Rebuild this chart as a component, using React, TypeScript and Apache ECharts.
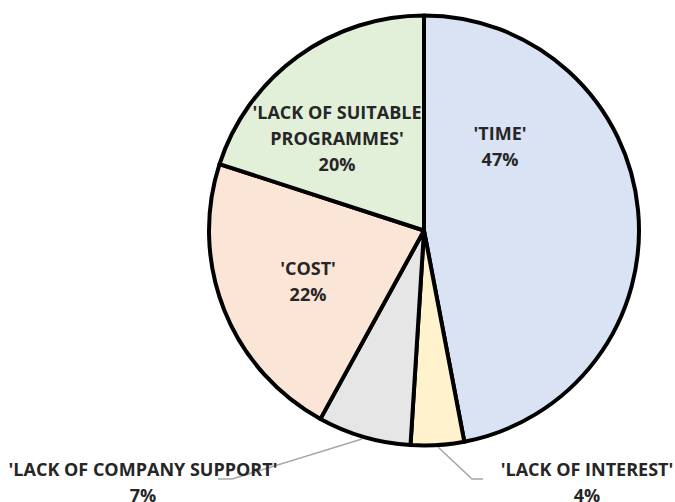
import React, { useEffect, useRef } from "react";
import * as echarts from "echarts";

const categories = [
  "'TIME'",
  "'LACK OF INTEREST'",
  "'LACK OF COMPANY SUPPORT'",
  "'COST'",
  "'LACK OF SUITABLE PROGRAMMES'",
];
const values = [47, 4, 7, 22, 20];
const colors = ["#dae3f3", "#fff2cc", "#e7e6e6", "#fbe5d6", "#e2f0d9"];
const labelTexts = [
  "'TIME'",
  "'LACK OF INTEREST'",
  "'LACK OF COMPANY SUPPORT'",
  "'COST'",
  "'LACK OF SUITABLE\nPROGRAMMES'",
];

const FONT = "'Open Sans', sans-serif";

export default function App() {
  const ref = useRef<HTMLDivElement>(null);
  useEffect(() => {
    if (!ref.current) return;
    const chart = echarts.init(ref.current, undefined, { renderer: "svg" });
    const labelPos: Record<number, { x: number; y: number; line?: number[][] }> = {
      0: { x: 500, y: 146 },
      1: { x: 587, y: 482, line: [[438, 447], [472, 479], [483, 479]] },
      2: { x: 143, y: 482, line: [[362, 439], [232, 479], [218, 479]] },
      3: { x: 308, y: 281 },
      4: { x: 337, y: 138 },
    };
    const total = values.reduce((a, b) => a + b, 0);
    chart.setOption({
      animation: false,
      backgroundColor: "#ffffff",
      series: [
        {
          type: "pie",
          center: [424, 230.5],
          radius: [0, 215],
          startAngle: 90,
          clockwise: true,
          avoidLabelOverlap: false,
          itemStyle: { borderColor: "#000000", borderWidth: 4, borderJoin: "round" },
          label: {
            show: true,
            color: "#262626",
            fontFamily: FONT,
            fontWeight: "bold",
            fontSize: 18,
            lineHeight: 26,
            align: "center",
            formatter: (p: any) =>
              labelTexts[p.dataIndex] + "\n" + Math.round((p.value / total) * 100) + "%",
          },
          labelLine: {
            show: true,
            lineStyle: { color: "#a6a6a6", width: 1.5 },
          },
          labelLayout: (p: any) => {
            const lp = labelPos[p.dataIndex];
            const o: any = { x: lp.x, y: lp.y, align: "center", verticalAlign: "middle" };
            if (lp.line) o.labelLinePoints = lp.line;
            return o;
          },
          data: categories.map((name, i) => ({
            name,
            value: values[i],
            itemStyle: { color: colors[i] },
            label: { position: i === 1 || i === 2 ? "outside" : "inside" },
            labelLine: { show: i === 1 || i === 2 },
          })),
        },
      ],
    });
    return () => chart.dispose();
  }, []);
  return (
    <div
      ref={ref}
      style={{ position: "fixed", left: 0, top: 0, width: 675, height: 502 }}
    />
  );
}
